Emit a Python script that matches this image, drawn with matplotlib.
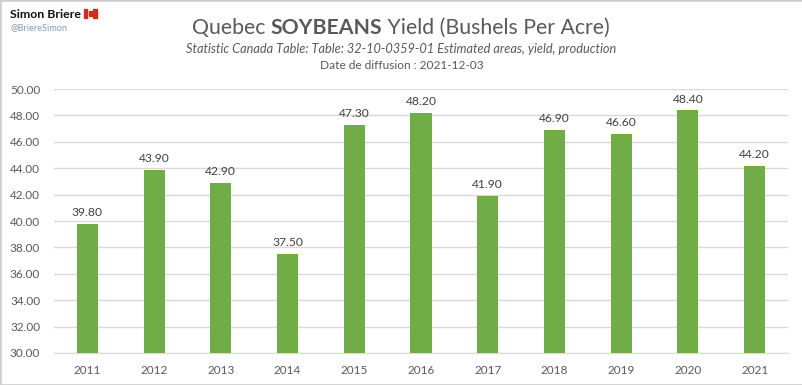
import matplotlib

matplotlib.use("Agg")
import matplotlib.pyplot as plt
from matplotlib.patches import Rectangle

plt.rcParams["font.family"] = ["Lato", "DejaVu Sans"]

# Chart data
years = ["2011", "2012", "2013", "2014", "2015", "2016", "2017", "2018", "2019", "2020", "2021"]
yields = [39.8, 43.9, 42.9, 37.5, 47.3, 48.2, 41.9, 46.9, 46.6, 48.4, 44.2]
y_ticks = [30, 32, 34, 36, 38, 40, 42, 44, 46, 48, 50]

title_parts = [("Quebec ", "normal"), ("SOYBEANS", "bold"), (" Yield (Bushels Per Acre)", "normal")]
subtitle = "Statistic Canada Table: Table: 32-10-0359-01 Estimated areas, yield, production"
release = "Date de diffusion : 2021-12-03"

W, H = 803, 385
GREEN = "#70AD47"
GRID = "#D9D9D9"
TEXT = "#595959"


def px(x, y):
    # pixel position (from top left) to figure fraction
    return x / W, 1 - y / H


fig = plt.figure(figsize=(W / 100, H / 100), dpi=100, facecolor="white")
ax = fig.add_axes([54 / W, 1 - 353 / H, (788 - 54) / W, (353 - 89) / H])

positions = list(range(len(years)))
ax.bar(positions, yields, width=0.315, color=GREEN, zorder=3)
ax.set_xlim(-0.5, len(years) - 0.5)
ax.set_ylim(30, 50)
ax.set_xticks(positions, years)
ax.set_yticks(y_ticks, [f"{v:.2f}" for v in y_ticks])
ax.tick_params(length=0, labelsize=8.5, labelcolor=TEXT)
ax.tick_params(axis="y", pad=10)
ax.tick_params(axis="x", pad=9)
ax.grid(axis="y", color=GRID, lw=1, zorder=0)
ax.set_axisbelow(True)
for name in ["top", "left", "right"]:
    ax.spines[name].set_visible(False)
ax.spines["bottom"].set_color(GRID)

# Value labels above the bars
for pos, val in zip(positions, yields):
    ax.annotate(f"{val:.2f}", (pos, val), xytext=(0, 4), textcoords="offset points",
                ha="center", va="bottom", fontsize=8.7, color="#404040")

# Title is built from pieces because only one word is bold
renderer = fig.canvas.get_renderer()
x_pos = 192 / W
for part, weight in title_parts:
    t = fig.text(x_pos, 1 - 34 / H, part, fontsize=15.3, fontweight=weight, color=TEXT,
                 ha="left", va="baseline")
    # trailing/leading spaces are measured by the text extent
    x_pos = t.get_window_extent(renderer).x1 / W

fig.text(*px(401, 53), subtitle, fontsize=9.15, style="italic", color=TEXT, ha="center", va="baseline")
fig.text(*px(402, 69), release, fontsize=8.6, color=TEXT, ha="center", va="baseline")

# Author block
fig.text(*px(10, 18), "Simon Briere", fontsize=8.9, fontweight="bold", color="#111111", ha="left", va="baseline")
fig.text(*px(11, 30), "@BriereSimon", fontsize=6.6, color="#8899A6", ha="left", va="baseline")

# Canadian flag
fx, fy = px(84, 18)
fig.patches.append(Rectangle((fx, fy), 13 / W, 9 / H, transform=fig.transFigure, color="white"))
fig.patches.append(Rectangle((fx, fy), 3.5 / W, 9 / H, transform=fig.transFigure, color="#D52B1E"))
fig.patches.append(Rectangle((fx + 9.5 / W, fy), 3.5 / W, 9 / H, transform=fig.transFigure, color="#D52B1E"))
fig.patches.append(Rectangle((fx + 5 / W, fy + 2.5 / H), 3 / W, 4 / H, transform=fig.transFigure, color="#D52B1E"))

# Grey screenshot border
fig.patches.append(Rectangle((0, 0), 1, 1, transform=fig.transFigure, fill=False, ec="#D0D0D0", lw=2))

fig.savefig("out.png", dpi=100, facecolor="white")
